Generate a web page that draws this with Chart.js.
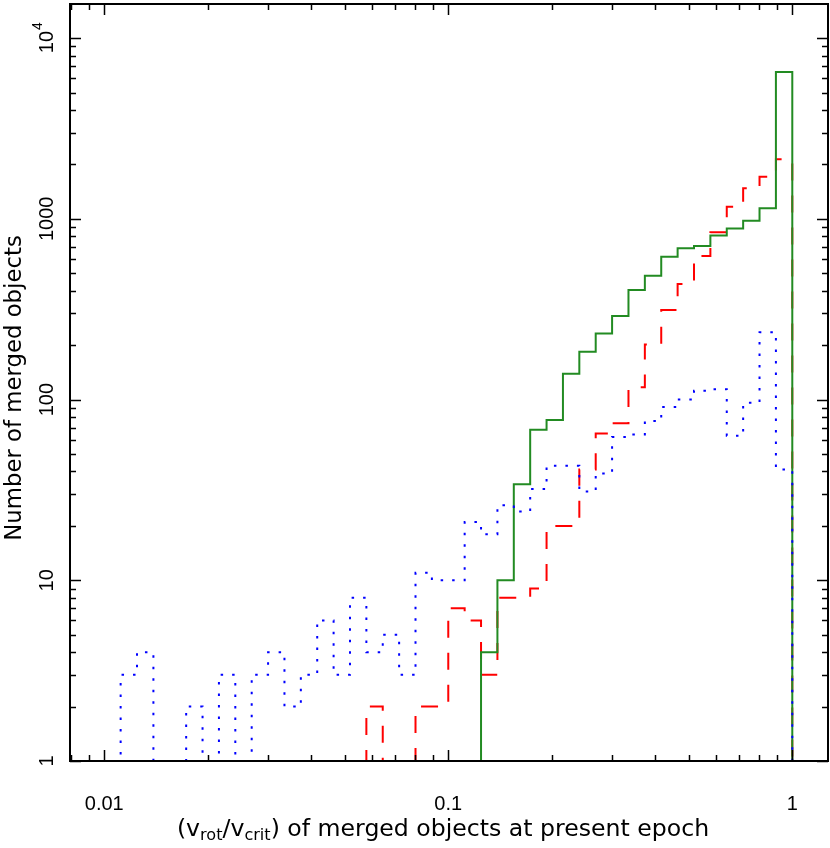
<!DOCTYPE html>
<html>
<head>
<meta charset="utf-8">
<script src="https://cdn.jsdelivr.net/npm/chart.js@4.4.1/dist/chart.umd.min.js"></script>
<style>
html, body { margin: 0; padding: 0; background: #fff; }
canvas { display: block; }
</style>
</head>
<body>
<canvas id="chart" width="830" height="848"></canvas>
<script>
// histogram bin edges (log bins, 21 per decade) from 0.01 to 1
const binEdges = [0.01, 0.011159, 0.012452, 0.013895, 0.015505, 0.017302, 0.019307, 0.021544,
    0.024041, 0.026827, 0.029936, 0.033405, 0.037276, 0.041595, 0.046416, 0.051795, 0.057797,
    0.064495, 0.071969, 0.080309, 0.089615, 0.1, 0.11159, 0.12452, 0.13895, 0.15505, 0.17302,
    0.19307, 0.21544, 0.24041, 0.26827, 0.29936, 0.33405, 0.37276, 0.41595, 0.46416, 0.51795,
    0.57797, 0.64495, 0.71969, 0.80309, 0.89615, 1];

// counts per bin, low v to high v (0 = empty bin)
const blueCounts = [0, 3, 4, 0, 0, 2, 0, 3, 0, 3, 4, 2, 3, 6, 3, 8, 4, 5, 3, 11, 10,
    10, 21, 18, 26, 24, 32, 43, 43, 31, 39, 62, 64, 76, 91, 100, 112, 114, 63, 96, 236, 41];
const redCounts = [0, 0, 0, 0, 0, 0, 0, 0, 0, 0, 0, 0, 0, 0, 0, 0, 2, 0, 0, 2, 2,
    7, 6, 3, 8, 8, 9, 20, 20, 41, 65, 74, 117, 202, 313, 436, 623, 843, 1168, 1476, 1710, 2140];
const greenCounts = [0, 0, 0, 0, 0, 0, 0, 0, 0, 0, 0, 0, 0, 0, 0, 0, 0, 0, 0, 0, 0,
    0, 0, 4, 10, 34, 68, 77, 139, 184, 232, 290, 404, 485, 618, 688, 708, 809, 883, 975, 1145, 6500];

const xTickLabels = ['0.01', '0.1', '1'];
const xTickValues = [0.01, 0.1, 1];
const yTickLabels = ['1', '10', '100', '1000', '10^4'];
const yTickValues = [1, 10, 100, 1000, 10000];

// turn counts into the corners of a histogram outline
function stepPoints(counts) {
    const pts = [{x: binEdges[0], y: 1}];
    counts.forEach((c, i) => {
        const v = Math.max(c, 1);
        pts.push({x: binEdges[i], y: v}, {x: binEdges[i + 1], y: v});
    });
    pts.push({x: binEdges[binEdges.length - 1], y: 1});
    return pts;
}

function minorTicks(min, max) {
    const out = [];
    for (let d = 0.001; d <= 100000; d *= 10) {
        for (let m = 1; m <= 9; m++) {
            const v = m * d;
            if (v >= min && v <= max) out.push({v: v, major: m === 1});
        }
    }
    return out;
}

const FONT = '"Liberation Sans", Arial, sans-serif';
const TFONT = '"DejaVu Sans", sans-serif';

const frame = {
    id: 'frame',
    afterDatasetsDraw(chart) {
        const ctx = chart.ctx;
        const a = chart.chartArea;
        const xs = chart.scales.x;
        const ys = chart.scales.y;
        ctx.save();
        ctx.strokeStyle = '#000';
        ctx.lineWidth = 2;
        ctx.strokeRect(a.left, a.top, a.right - a.left, a.bottom - a.top);

        ctx.lineWidth = 1.5;
        ctx.beginPath();
        minorTicks(xs.min, xs.max).forEach(t => {
            const px = Math.round(xs.getPixelForValue(t.v)) + 0.5;
            const len = t.major ? 11 : 6;
            ctx.moveTo(px, a.bottom); ctx.lineTo(px, a.bottom - len);
            ctx.moveTo(px, a.top); ctx.lineTo(px, a.top + len);
        });
        minorTicks(ys.min, ys.max).forEach(t => {
            const py = Math.round(ys.getPixelForValue(t.v)) + 0.5;
            const len = t.major ? 11 : 6;
            ctx.moveTo(a.left, py); ctx.lineTo(a.left + len, py);
            ctx.moveTo(a.right, py); ctx.lineTo(a.right - len, py);
        });
        ctx.stroke();

        ctx.fillStyle = '#000';
        ctx.font = '20px ' + FONT;
        ctx.textAlign = 'center';
        ctx.textBaseline = 'middle';
        xTickLabels.forEach((lab, i) => {
            ctx.fillText(lab, xs.getPixelForValue(xTickValues[i]), 804);
        });

        yTickLabels.forEach((lab, i) => {
            const py = ys.getPixelForValue(yTickValues[i]);
            ctx.save();
            ctx.translate(47, py);
            ctx.rotate(-Math.PI / 2);
            if (lab.indexOf('^') > 0) {
                const parts = lab.split('^');
                ctx.font = '20px ' + FONT;
                const w1 = ctx.measureText(parts[0]).width;
                ctx.font = '14px ' + FONT;
                const w2 = ctx.measureText(parts[1]).width;
                const x0 = -(w1 + w2) / 2;
                ctx.textAlign = 'left';
                ctx.font = '20px ' + FONT;
                ctx.fillText(parts[0], x0, 0);
                ctx.font = '14px ' + FONT;
                ctx.fillText(parts[1], x0 + w1 + 1, -9);
            } else {
                ctx.fillText(lab, 0, 0);
            }
            ctx.restore();
        });

        // y axis title, sized to the span it has in the original
        ctx.save();
        ctx.translate(15, 388);
        ctx.rotate(-Math.PI / 2);
        ctx.font = '20px ' + TFONT;
        let ySize = 20 * 305 / ctx.measureText('Number of merged objects').width;
        ctx.font = ySize.toFixed(1) + 'px ' + TFONT;
        ctx.textAlign = 'center';
        ctx.fillText('Number of merged objects', 0, 0);
        ctx.restore();

        // x axis title with subscripts
        const pieces = [['(v', 0], ['rot', 1], ['/v', 0], ['crit', 1], [') of merged objects at present epoch', 0]];
        const widthAt = (big) => {
            let w = 0;
            pieces.forEach(p => {
                ctx.font = (p[1] ? big * 0.68 : big).toFixed(1) + 'px ' + TFONT;
                w += ctx.measureText(p[0]).width;
            });
            return w;
        };
        const big = 20 * 533 / widthAt(20);
        let cx = 443 - widthAt(big) / 2;
        ctx.textAlign = 'left';
        pieces.forEach(p => {
            ctx.font = (p[1] ? big * 0.68 : big).toFixed(1) + 'px ' + TFONT;
            ctx.fillText(p[0], cx, p[1] ? 836 : 830);
            cx += ctx.measureText(p[0]).width;
        });
        ctx.restore();
    }
};

new Chart(document.getElementById('chart'), {
    type: 'line',
    data: {
        datasets: [
            {label: 'blue', data: stepPoints(blueCounts), borderColor: '#0000ff', borderWidth: 2,
                borderDash: [2.5, 9], pointRadius: 0, tension: 0, fill: false},
            {label: 'green', data: stepPoints(greenCounts), borderColor: '#228b22', borderWidth: 2,
                pointRadius: 0, tension: 0, fill: false},
            {label: 'red', data: stepPoints(redCounts), borderColor: '#ff0000', borderWidth: 2,
                borderDash: [17, 15], pointRadius: 0, tension: 0, fill: false}
        ]
    },
    options: {
        responsive: false,
        animation: false,
        devicePixelRatio: 1,
        layout: {padding: {left: 70, right: 2, top: 4, bottom: 87}},
        plugins: {legend: {display: false}, tooltip: {enabled: false}},
        scales: {
            x: {type: 'logarithmic', min: 0.007951, max: 1.27, display: false},
            y: {type: 'logarithmic', min: 1, max: 15450, display: false}
        }
    },
    plugins: [frame]
});
</script>
</body>
</html>
